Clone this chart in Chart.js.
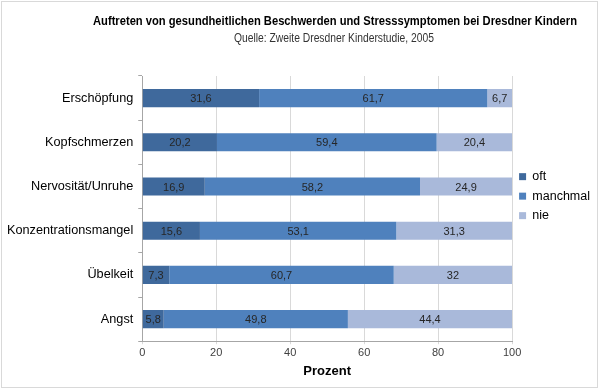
<!DOCTYPE html>
<html>
<head>
<meta charset="utf-8">
<script src="https://cdn.jsdelivr.net/npm/chart.js@4/dist/chart.umd.min.js"></script>
<style>
  body { margin: 0; background: #fff; }
  #wrap { position: relative; width: 600px; height: 391px; }
  #rahmen { position: absolute; left: 1px; top: 1px; width: 595px; height: 385px; border: 1px solid #d9d9d9; pointer-events: none; }
</style>
</head>
<body>
<div id="wrap">
  <canvas id="chartKinder" width="600" height="391"></canvas>
  <div id="rahmen"></div>
</div>
<script>
// ———————————————————
//  Daten (Zweite Dresdner Kinderstudie, 2005)
// ———————————————————
const kategorien = ['Erschöpfung', 'Kopfschmerzen', 'Nervosität/Unruhe', 'Konzentrationsmangel', 'Übelkeit', 'Angst'];
const oft = [31.6, 20.2, 16.9, 15.6, 7.3, 5.8];
const manchmal = [61.7, 59.4, 58.2, 53.1, 60.7, 49.8];
const nie = [6.7, 20.4, 24.9, 31.3, 32, 44.4];
const xTicks = [0, 20, 40, 60, 80, 100];

const titel = 'Auftreten von gesundheitlichen Beschwerden und Stresssymptomen bei Dresdner Kindern';
const untertitel = 'Quelle: Zweite Dresdner Kinderstudie, 2005';

const FONT = "'Liberation Sans', Arial, sans-serif";

// Zahl mit Dezimalkomma
function fmt(v) {
  return String(v).replace('.', ',');
}

// Werte in die Balken schreiben
const balkenWerte = {
  id: 'balkenWerte',
  afterDatasetsDraw(chart) {
    const ctx = chart.ctx;
    ctx.save();
    ctx.font = '11px ' + FONT;
    ctx.fillStyle = '#262626';
    ctx.textAlign = 'center';
    ctx.textBaseline = 'middle';
    chart.data.datasets.forEach((ds, i) => {
      chart.getDatasetMeta(i).data.forEach((bar, j) => {
        const mitte = (bar.x + bar.base) / 2;
        ctx.fillText(fmt(ds.data[j]), mitte, bar.y + 1);
      });
    });
    ctx.restore();
  }
};

// schmal gezogener Text (Original wirkt wie Arial Narrow)
function schmalerText(ctx, text, x, y, breite) {
  const w = ctx.measureText(text).width;
  ctx.save();
  ctx.translate(x, y);
  ctx.scale(breite / w, 1);
  ctx.fillText(text, 0, 0);
  ctx.restore();
}

// Titel + Quelle oben
const kopfzeile = {
  id: 'kopfzeile',
  afterDraw(chart) {
    const ctx = chart.ctx;
    ctx.save();
    ctx.textAlign = 'center';
    ctx.textBaseline = 'middle';
    ctx.fillStyle = '#000';
    ctx.font = 'bold 12px ' + FONT;
    schmalerText(ctx, titel, 335, 22, 484);
    ctx.fillStyle = '#333';
    ctx.font = '12px ' + FONT;
    schmalerText(ctx, untertitel, 334, 39, 200);
    ctx.restore();
  }
};

new Chart(document.getElementById('chartKinder'), {
  type: 'bar',
  data: {
    labels: kategorien,
    datasets: [
      { label: 'oft', data: oft, backgroundColor: '#3f699c' },
      { label: 'manchmal', data: manchmal, backgroundColor: '#4f81bd' },
      { label: 'nie', data: nie, backgroundColor: '#a9b9da' }
    ]
  },
  options: {
    indexAxis: 'y',
    responsive: false,
    animation: false,
    categoryPercentage: 1,
    barPercentage: 0.41,
    layout: { padding: { top: 76, left: 2, right: 0, bottom: 12 } },
    plugins: {
      legend: {
        position: 'right',
        align: 'start',
        title: { display: true, text: '', padding: { top: 73, bottom: 0 } },
        labels: {
          boxWidth: 7,
          boxHeight: 7,
          padding: 7,
          color: '#000',
          font: { family: FONT, size: 12.5 }
        }
      },
      tooltip: { enabled: false }
    },
    scales: {
      x: {
        stacked: true,
        min: 0,
        max: 100,
        afterBuildTicks: ax => { ax.ticks = xTicks.map(v => ({ value: v })); },
        grid: { color: '#d9d9d9', tickLength: 3, tickColor: '#d9d9d9' },
        border: { color: '#a6a6a6' },
        ticks: { color: '#404040', font: { family: FONT, size: 11 }, padding: 2 },
        title: {
          display: true,
          text: 'Prozent',
          color: '#000',
          font: { family: FONT, size: 13, weight: 'bold' },
          padding: { top: 2, bottom: 0 }
        }
      },
      y: {
        stacked: true,
        grid: { offset: true, drawOnChartArea: false, tickLength: 4, color: '#a6a6a6' },
        border: { color: '#a6a6a6' },
        ticks: { color: '#000', font: { family: FONT, size: 12.7 }, padding: 5 }
      }
    }
  },
  plugins: [balkenWerte, kopfzeile]
});
</script>
</body>
</html>
